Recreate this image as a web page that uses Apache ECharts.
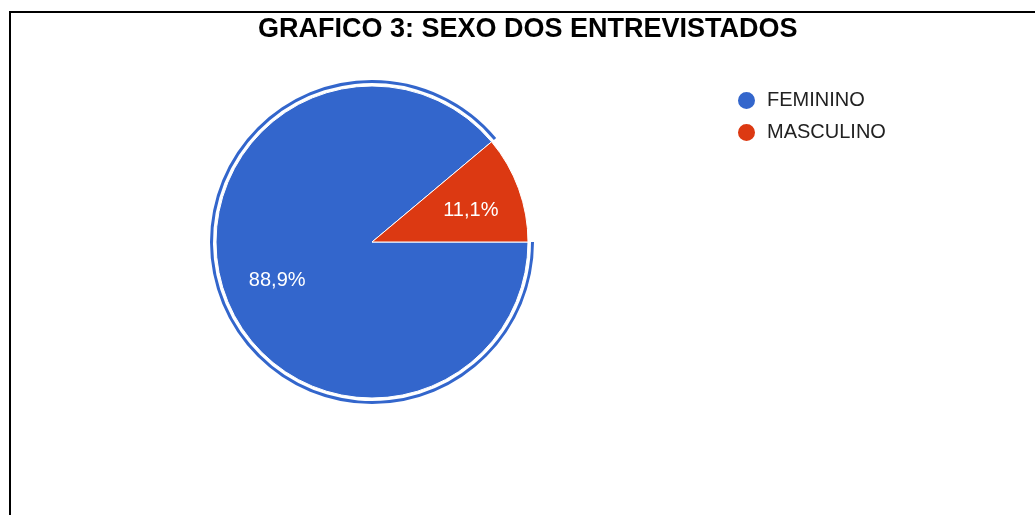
<!DOCTYPE html>
<html>
<head>
<meta charset="utf-8">
<script src="https://cdn.jsdelivr.net/npm/echarts@6/dist/echarts.min.js"></script>
<style>
  html, body { margin: 0; padding: 0; background: #fff; }
  #container { width: 1035px; height: 515px; }
</style>
</head>
<body>
<div id="container"></div>
<script>
var categories = ['FEMININO', 'MASCULINO'];
var percentages = [88.9, 11.1];
var colors = ['#3366cc', '#dc3912'];

var dom = document.getElementById('container');
var myChart = echarts.init(dom, null, {
    renderer: 'canvas',
    useDirtyRect: false
});

var fontFamily = 'Liberation Sans, Arial, sans-serif';
var center = [372, 242];

var pieData = categories.map(function (name, i) {
    return { name: name, value: percentages[i], itemStyle: { color: colors[i] } };
});

// outline ring drawn around the highlighted (first) slice only
var ringData = categories.map(function (name, i) {
    return {
        name: name,
        value: percentages[i],
        itemStyle: { color: i === 0 ? colors[0] : 'rgba(0,0,0,0)' }
    };
});

// invisible slices that only carry the percentage labels
var labelData = categories.map(function (name, i) {
    return { name: name, value: percentages[i], itemStyle: { color: 'rgba(0,0,0,0)' } };
});

var option;

option = {
    animation: false,
    title: {
        text: 'GRAFICO 3: SEXO DOS ENTREVISTADOS',
        left: 258,
        top: 16,
        padding: 0,
        textStyle: {
            fontFamily: fontFamily,
            fontSize: 27,
            fontWeight: 'bold',
            color: '#000'
        }
    },
    legend: {
        orient: 'vertical',
        left: 731,
        top: 85,
        icon: 'circle',
        itemWidth: 19,
        itemHeight: 19,
        itemGap: 11,
        selectedMode: false,
        data: categories,
        textStyle: {
            fontFamily: fontFamily,
            fontSize: 20,
            color: '#222',
            padding: [0, 0, 0, 6]
        }
    },
    graphic: [
        {
            type: 'rect',
            silent: true,
            shape: { x: 10, y: 12, width: 1200, height: 700 },
            style: { fill: null, stroke: '#000', lineWidth: 2 }
        }
    ],
    series: [
        {
            type: 'pie',
            silent: true,
            center: center,
            radius: [0, 156],
            startAngle: 0,
            clockwise: true,
            avoidLabelOverlap: false,
            label: { show: false },
            labelLine: { show: false },
            itemStyle: { borderColor: '#fff', borderWidth: 1 },
            data: pieData
        },
        {
            type: 'pie',
            silent: true,
            center: center,
            radius: [159, 162],
            startAngle: 0,
            clockwise: true,
            label: { show: false },
            labelLine: { show: false },
            data: ringData
        },
        {
            type: 'pie',
            silent: true,
            center: [374, 245.5],
            radius: [0, 200],
            startAngle: 0,
            clockwise: true,
            avoidLabelOverlap: false,
            label: {
                show: true,
                position: 'inside',
                fontFamily: fontFamily,
                fontSize: 20,
                color: '#fff',
                formatter: function (p) {
                    return p.percent.toFixed(1).replace('.', ',') + '%';
                }
            },
            labelLine: { show: false },
            data: labelData
        }
    ]
};

if (option && typeof option === 'object') {
    myChart.setOption(option);
}

window.addEventListener('resize', myChart.resize);
</script>
</body>
</html>
